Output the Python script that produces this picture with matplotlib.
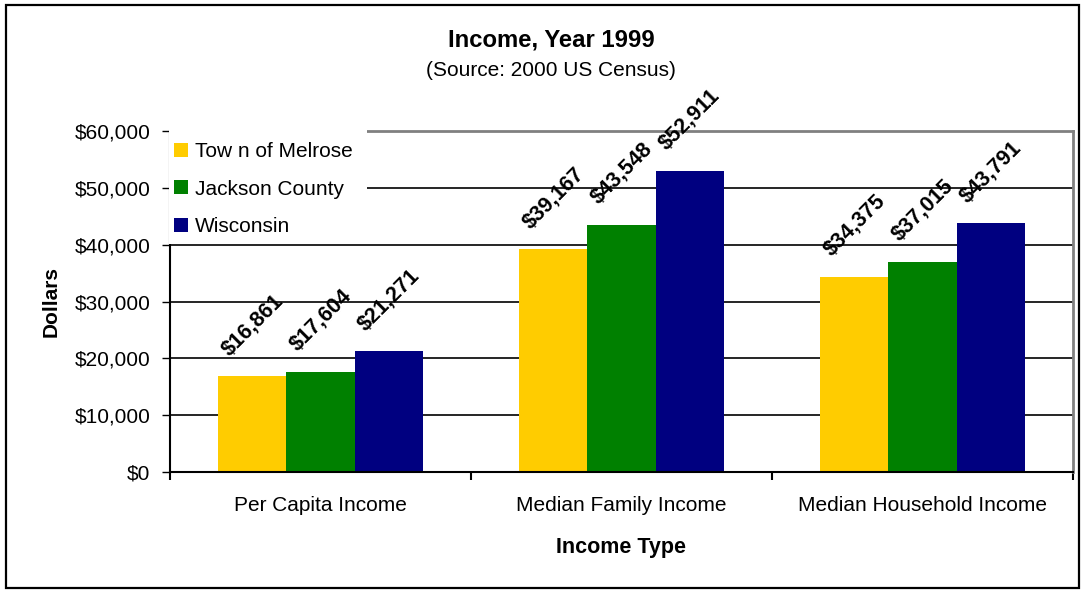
import matplotlib
matplotlib.use("Agg")
import matplotlib.pyplot as plt
from matplotlib.patches import Rectangle
import numpy as np

plt.rcParams['font.family'] = ['Liberation Sans', 'DejaVu Sans']

categories = ["Per Capita Income", "Median Family Income", "Median Household Income"]
series_names = ["Tow n of Melrose", "Jackson County", "Wisconsin"]
melrose = [16861, 39167, 34375]
jackson = [17604, 43548, 37015]
wisconsin = [21271, 52911, 43791]
series_values = [melrose, jackson, wisconsin]
colors = ["#FFCC00", "#008000", "#000080"]
yticks = [0, 10000, 20000, 30000, 40000, 50000, 60000]
ytick_labels = ["$0", "$10,000", "$20,000", "$30,000", "$40,000", "$50,000", "$60,000"]

W, H = 1082, 590
fig = plt.figure(figsize=(W / 100, H / 100), dpi=100)
fig.patch.set_facecolor("white")

# outer border
fig.patches.append(Rectangle((6 / W, 1 - 588 / H), (1079 - 6) / W, (588 - 5) / H,
                             transform=fig.transFigure, fill=False,
                             edgecolor="black", linewidth=1.6, zorder=10))

ax = fig.add_axes([170 / W, 1 - 472 / H, 903 / W, 341 / H])
ax.set_axisbelow(True)

x = np.arange(len(categories))
bw = 0.226
offsets = [-bw, 0, bw]
for vals, name, col, off in zip(series_values, series_names, colors, offsets):
    ax.bar(x + off, vals, width=bw, color=col, label=name, zorder=2)
    for xi, v in zip(x + off, vals):
        ax.annotate(f"${v:,}", xy=(xi, v), xytext=(0, 37), textcoords="offset points",
                    ha="center", va="center", rotation=45, fontsize=15.5,
                    fontweight="bold", color="black", zorder=4)

ax.set_xlim(-0.5, 2.5)
ax.set_ylim(0, 60000)
ax.set_yticks(yticks)
ax.set_yticklabels(ytick_labels, fontsize=15)
ax.yaxis.grid(True, color="black", linewidth=1.2)
ax.tick_params(axis="y", direction="out", length=6, width=1, pad=8)

ax.set_xticks(x)
ax.set_xticklabels(categories, fontsize=15)
ax.set_xticks([-0.5, 0.5, 1.5, 2.5], minor=True)
ax.tick_params(axis="x", which="major", length=0, pad=17)
ax.tick_params(axis="x", which="minor", direction="out", length=6, width=1.5)

for s in ["left", "bottom"]:
    ax.spines[s].set_color("black")
    ax.spines[s].set_linewidth(1.5)
for s in ["top", "right"]:
    ax.spines[s].set_color("#808080")
    ax.spines[s].set_linewidth(2)

ax.set_ylabel("Dollars", fontsize=15, fontweight="bold", labelpad=10)
ax.set_xlabel("Income Type", fontsize=15.5, fontweight="bold", labelpad=16)

# white legend area covering the spines / gridlines
ax.add_artist(Rectangle((169 / W, 1 - 244 / H), (367 - 169) / W, (244 - 127) / H,
                        transform=fig.transFigure, facecolor="white",
                        edgecolor="none", zorder=5.5, clip_on=False))

leg = ax.legend(loc="upper left", bbox_to_anchor=(166 / W, 1 - 134 / H),
                bbox_transform=fig.transFigure, fontsize=15, frameon=False,
                handlelength=0.65, handleheight=0.65, handletextpad=0.35,
                labelspacing=0.88, borderpad=0.4, borderaxespad=0)
leg.set_zorder(6)

fig.text(551 / W, 1 - 40 / H, "Income, Year 1999", ha="center", va="center",
         fontsize=17.2, fontweight="bold")
fig.text(551 / W, 1 - 70 / H, "(Source: 2000 US Census)", ha="center", va="center",
         fontsize=15)

fig.savefig("out.png", dpi=100, facecolor="white")
